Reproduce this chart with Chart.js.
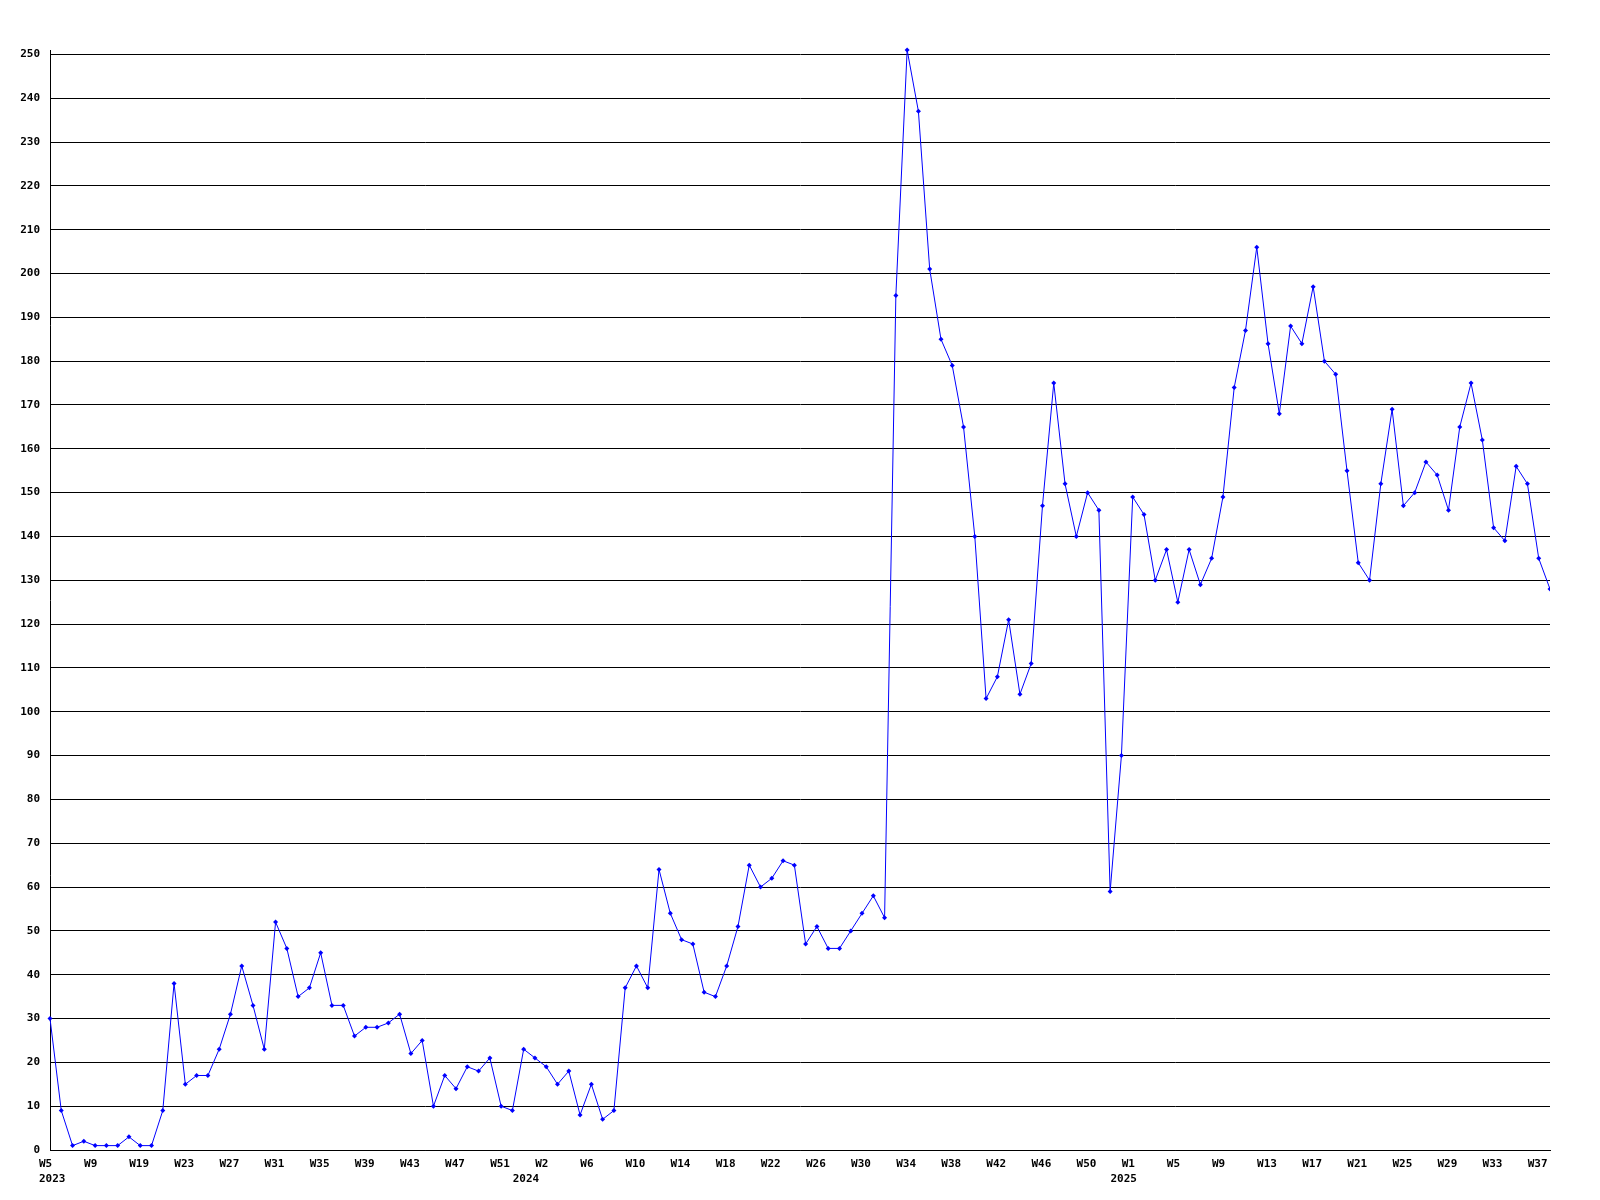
<!DOCTYPE html>
<html>
<head>
<meta charset="utf-8">
<script src="https://cdn.jsdelivr.net/npm/chart.js@4.4.1/dist/chart.umd.min.js"></script>
<style>
  html, body { margin: 0; padding: 0; background: #fff; }
  canvas { display: block; }
</style>
</head>
<body>
<canvas id="weekly" width="1600" height="1200"></canvas>
<script>
// week labels per point (weeks without data are simply absent)
const weeks2023 = [5,6,7,8,9,16,17,18,19,20,21,22,23,24,25,26,27,28,29,30,31,32,33,34,35,36,37,38,39,40,41,42,43,44,45,46,47,48,49,50,51,52,53];
const weeks2024 = [1,2,3,4,5,6,7,8,9,10,11,12,13,14,15,16,17,18,19,20,21,22,23,24,25,26,27,28,29,30,31,32,33,34,35,36,37,38,39,40,41,42,43,44,45,46,47,48,49,50,51,52,53];
const weeks2025 = [1,2,3,4,5,6,7,8,9,10,11,12,13,14,15,16,17,18,19,20,21,22,23,24,25,26,27,28,29,30,31,32,33,34,35,36,37,38];
const yearNames = ['2023', '2024', '2025'];
const yearLabelAt = [0, 42, 95];
const yTicks = [0, 10, 20, 30, 40, 50, 60, 70, 80, 90, 100, 110, 120, 130, 140, 150, 160, 170, 180, 190, 200, 210, 220, 230, 240, 250];

const counts = [
  30, 9, 1, 2, 1, 1, 1, 3, 1, 1,
  9, 38, 15, 17, 17, 23, 31, 42, 33, 23,
  52, 46, 35, 37, 45, 33, 33, 26, 28, 28,
  29, 31, 22, 25, 10, 17, 14, 19, 18, 21,
  10, 9, 23, 21, 19, 15, 18, 8, 15, 7,
  9, 37, 42, 37, 64, 54, 48, 47, 36, 35,
  42, 51, 65, 60, 62, 66, 65, 47, 51, 46,
  46, 50, 54, 58, 53, 195, 251, 237, 201, 185,
  179, 165, 140, 103, 108, 121, 104, 111, 147, 175,
  152, 140, 150, 146, 59, 90, 149, 145, 130, 137,
  125, 137, 129, 135, 149, 174, 187, 206, 184, 168,
  188, 184, 197, 180, 177, 155, 134, 130, 152, 169,
  147, 150, 157, 154, 146, 165, 175, 162, 142, 139,
  156, 152, 135, 128
];

const weekLabels = [...weeks2023, ...weeks2024, ...weeks2025].map(w => 'W' + w);

const tickFont = { family: '"DejaVu Sans Mono", monospace', size: 11, weight: 'bold', lineHeight: 1.35 };

new Chart(document.getElementById('weekly'), {
  type: 'line',
  data: {
    labels: weekLabels,
    datasets: [{
      data: counts,
      borderColor: '#0000ff',
      borderWidth: 1,
      tension: 0,
      pointStyle: 'rectRot',
      pointRadius: 2.5,
      pointBackgroundColor: '#0000ff',
      pointBorderColor: '#0000ff',
      pointBorderWidth: 0,
      clip: { left: 5, top: 5, right: 0, bottom: 5 }
    }]
  },
  options: {
    responsive: false,
    animation: false,
    layout: { padding: { top: 50, right: 50, left: 0, bottom: 0 } },
    plugins: { legend: { display: false }, tooltip: { enabled: false } },
    scales: {
      x: {
        type: 'category',
        offset: false,
        grid: { display: false, drawTicks: false },
        border: { display: true, color: '#000', width: 1 },
        ticks: {
          autoSkip: false,
          maxRotation: 0,
          minRotation: 0,
          align: 'start',
          padding: 7,
          labelOffset: -11,
          color: '#000',
          font: tickFont,
          callback: (val, i) => {
            const top = i % 4 === 0 ? weekLabels[i] : '';
            const y = yearLabelAt.indexOf(i);
            return y >= 0 ? [top, yearNames[y]] : top;
          }
        },
        afterFit: s => { s.height = 50; }
      },
      y: {
        min: 0,
        max: 251,
        grid: { color: '#000', lineWidth: 1, drawTicks: false },
        border: { display: true, color: '#000', width: 1 },
        ticks: { padding: 10, color: '#000', font: tickFont },
        afterBuildTicks: s => { s.ticks = yTicks.map(v => ({ value: v })); },
        afterFit: s => { s.width = 50; }
      }
    }
  }
});
</script>
</body>
</html>
